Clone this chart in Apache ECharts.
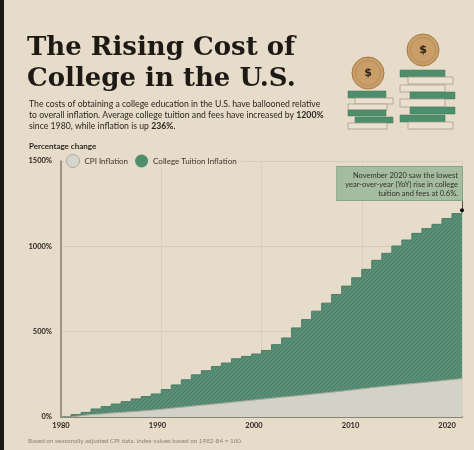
<!DOCTYPE html>
<html>
<head>
<meta charset="utf-8">
<script src="https://cdn.jsdelivr.net/npm/echarts@6/dist/echarts.min.js"></script>
<style>
  html, body { margin: 0; padding: 0; background: #e7dcc9; }
  #main { width: 474px; height: 450px; }
</style>
</head>
<body>
<div id="main"></div>
<script>
// years 1980..2020, values = percent change since 1980
var years = [1980,1981,1982,1983,1984,1985,1986,1987,1988,1989,
             1990,1991,1992,1993,1994,1995,1996,1997,1998,1999,
             2000,2001,2002,2003,2004,2005,2006,2007,2008,2009,
             2010,2011,2012,2013,2014,2015,2016,2017,2018,2019,2020];
var tuition = [0,14,27,47,61,76,90,106,120,135,
               161,188,218,247,271,296,316,341,355,369,
               390,424,463,522,571,620,667,718,767,816,
               865,918,959,1002,1037,1076,1104,1129,1163,1192,1212];
var cpi = [0,8,14,18,23,27,31,35,40,45,
           51,57,63,69,74,80,86,92,98,104,
           110,116,121,127,133,139,145,151,158,165,
           172,178,184,190,196,201,207,213,219,225,231];
var yTicks = [0, 500, 1000, 1500];
var xLabels = [1980, 1990, 2000, 2010, 2020];

var bg = '#e7dcc9';
var green = '#598f76';

// hatch texture for the tuition area
var hatch = document.createElement('canvas');
hatch.width = 4; hatch.height = 4;
var hc = hatch.getContext('2d');
hc.fillStyle = green;
hc.fillRect(0, 0, 4, 4);
hc.strokeStyle = '#4c7f66';
hc.lineWidth = 1;
hc.beginPath();
hc.moveTo(0, 4); hc.lineTo(4, 0);
hc.moveTo(-1, 1); hc.lineTo(1, -1);
hc.moveTo(3, 5); hc.lineTo(5, 3);
hc.stroke();

var pairs = function(vals){
    return years.map(function(y, i){ return [y, vals[i]]; });
};
var last = years.length - 1;

// books under the coins (decoration)
var books = [
    [348,91,38,7,1],[355,98,38,6,0],[348,104,39,6,0],[348,110,38,6,1],[355,117,38,6,1],[348,123,39,6,0],
    [400,70,45,7,1],[408,77,45,7,0],[400,85,45,7,0],[410,92,45,7,1],[400,99,45,8,0],[410,107,45,7,1],[400,115,45,7,1],[408,122,45,7,0]
];
var deco = books.map(function(b){
    return {
        type: 'rect',
        shape: {x: b[0], y: b[1], width: b[2], height: b[3]},
        style: b[4] ? {fill: '#4f8e6c', stroke: '#3f7a5a', lineWidth: 0.5}
                    : {fill: '#e9e0cf', stroke: '#a99d89', lineWidth: 0.8}
    };
});
[[368,73],[423,50]].forEach(function(c){
    deco.push({type: 'circle', shape: {cx: c[0], cy: c[1], r: 16},
               style: {fill: '#c99e69', stroke: '#a47a47', lineWidth: 1}});
    deco.push({type: 'circle', shape: {cx: c[0], cy: c[1], r: 12.5},
               style: {fill: 'none', stroke: '#b08653', lineWidth: 0.8}});
    deco.push({type: 'text', x: c[0], y: c[1],
               style: {text: '$', fill: '#2a221a', font: 'bold 11px "DejaVu Sans"', align: 'center', verticalAlign: 'middle'}});
});
// annotation box for the last point
deco.push({
    type: 'text', x: 462, y: 167, z: 10,
    style: {
        text: 'November 2020 saw the lowest\nyear-over-year (YoY) rise in college\ntuition and fees at 0.6%.',
        align: 'right', verticalAlign: 'top',
        font: '7.5px Lato', lineHeight: 9, fill: '#34322a',
        backgroundColor: '#a4bc9f', borderColor: '#86a587', borderWidth: 1,
        padding: [4, 4, 2, 8]
    }
});
// dark left edge of the page
deco.push({type: 'rect', shape: {x: 0, y: 0, width: 4, height: 450}, style: {fill: '#1c1a17'}});

var chart = echarts.init(document.getElementById('main'));
var option = {
    backgroundColor: bg,
    animation: false,
    title: [
        {
            text: 'The Rising Cost of\nCollege in the U.S.',
            left: 27, top: 33, padding: 0,
            textStyle: {fontFamily: 'DejaVu Serif', fontWeight: 'bold', fontSize: 26, lineHeight: 31, color: '#1d1a16'}
        },
        {
            text: 'The costs of obtaining a college education in the U.S. have ballooned relative\n' +
                  'to overall inflation. Average college tuition and fees have increased by {b|1200%}\n' +
                  'since 1980, while inflation is up {b|236%}.',
            left: 29, top: 99, padding: 0,
            textStyle: {fontFamily: 'Lato', fontWeight: 'normal', fontSize: 8.7, lineHeight: 11, color: '#2b2620',
                        rich: {b: {fontFamily: 'Lato', fontWeight: 'bold', fontSize: 8.7, color: '#2b2620'}}}
        },
        {
            text: 'Percentage change',
            left: 29, top: 142, padding: 0,
            textStyle: {fontFamily: 'Lato', fontWeight: 'bold', fontSize: 8, color: '#2b2620'}
        },
        {
            text: 'Based on seasonally adjusted CPI data. Index values based on 1982-84 = 100.',
            left: 28, top: 438, padding: 0,
            textStyle: {fontFamily: 'Lato', fontSize: 6.3, fontWeight: 'normal', color: '#8a8276'}
        }
    ],
    legend: {
        left: 65, top: 154,
        itemWidth: 13, itemHeight: 13, itemGap: 7,
        backgroundColor: bg,
        padding: [0, 4, 0, 1],
        textStyle: {fontFamily: 'Lato', fontSize: 8, color: '#3a342c'},
        data: [
            {name: 'CPI Inflation', icon: 'circle', itemStyle: {color: '#d7d6cc', borderColor: '#a9aa9f', borderWidth: 1}},
            {name: 'College Tuition Inflation', icon: 'circle', itemStyle: {color: '#4f8d6d', borderWidth: 0}}
        ]
    },
    grid: {left: 61, right: 12, top: 161, bottom: 33},
    xAxis: [
        {
            type: 'value', min: 1980, max: 2020, interval: 10,
            axisLine: {show: true, lineStyle: {color: '#8a8276', width: 2}},
            axisTick: {show: false},
            axisLabel: {show: false},
            splitLine: {show: true, lineStyle: {color: '#dbd0bc', width: 1}}
        },
        {
            // label row of the reference sits on a slightly tighter spacing than its grid
            type: 'value', min: 1980, max: 2021.55, interval: 10,
            position: 'bottom',
            axisLine: {show: false},
            axisTick: {show: false},
            splitLine: {show: false},
            axisLabel: {
                show: true, margin: 5,
                fontFamily: 'Lato', fontWeight: 'bold', fontSize: 7.5, color: '#2b2620',
                formatter: function(v){ return xLabels.indexOf(v) >= 0 ? String(v) : ''; }
            }
        }
    ],
    yAxis: {
        type: 'value', min: 0, max: 1500, interval: 500,
        axisLine: {show: true, lineStyle: {color: '#857d70', width: 1.5}},
        axisTick: {show: false},
        axisLabel: {
            margin: 9,
            fontFamily: 'Lato', fontWeight: 'bold', fontSize: 7.5, color: '#2b2620',
            formatter: function(v){ return yTicks.indexOf(v) >= 0 ? v + '%' : ''; }
        },
        splitLine: {show: true, lineStyle: {color: '#d8ccb7', width: 1}}
    },
    graphic: deco,
    series: [
        {
            name: 'College Tuition Inflation',
            type: 'line',
            step: 'end',
            data: pairs(tuition),
            symbol: 'none',
            lineStyle: {color: '#4b7f66', width: 1},
            areaStyle: {color: {image: hatch, repeat: 'repeat'}, opacity: 1},
            markPoint: {
                symbol: 'circle', symbolSize: 4,
                itemStyle: {color: '#111'},
                label: {show: false},
                data: [{coord: [years[last], tuition[last]]}]
            },
            markLine: {
                symbol: 'none', silent: true,
                label: {show: false},
                lineStyle: {color: '#55524a', width: 1, type: 'solid'},
                data: [[{coord: [years[last], tuition[last]]}, {coord: [years[last], 1290]}]]
            },
            z: 2
        },
        {
            name: 'CPI Inflation',
            type: 'line',
            step: 'end',
            data: pairs(cpi),
            symbol: 'none',
            lineStyle: {color: '#a6a99c', width: 1},
            areaStyle: {color: '#d3d2c7', opacity: 1},
            z: 3
        }
    ]
};
chart.setOption(option);
</script>
</body>
</html>
